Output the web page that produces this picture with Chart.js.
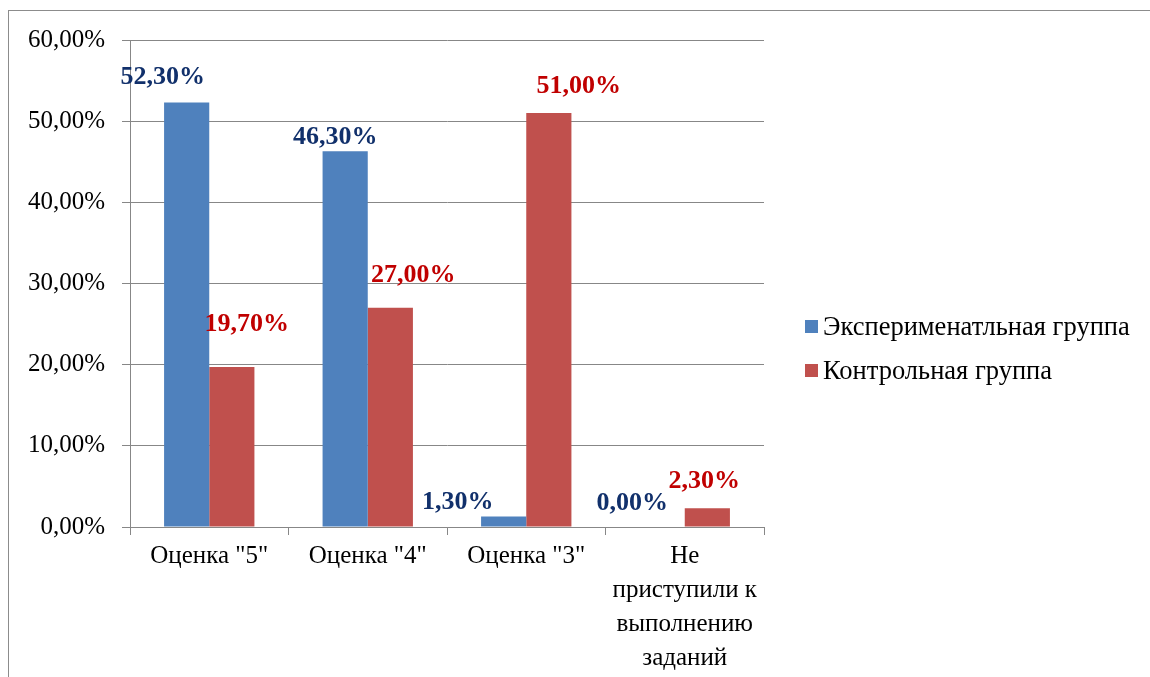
<!DOCTYPE html>
<html lang="ru">
<head>
<meta charset="utf-8">
<title>Результаты выполнения заданий</title>
<script src="https://cdn.jsdelivr.net/npm/chart.js@4.4.1/dist/chart.umd.min.js"></script>
<style>
  html, body { margin: 0; padding: 0; background: #ffffff; }
  #wrap { position: relative; width: 1150px; height: 677px; overflow: hidden; background: #ffffff; }
  #frame { position: absolute; left: 8px; top: 10px; width: 1200px; height: 700px;
           border-left: 1px solid #8c8c8c; border-top: 1px solid #8c8c8c; }
  #chart { position: absolute; left: 0; top: 0; }
  #legend { position: absolute; left: 805px; top: 304px; font-family: "Liberation Serif", "Times New Roman", serif;
            font-size: 26.5px; color: #000; }
  .item { display: flex; align-items: center; height: 44px; }
  .swatch { width: 13px; height: 13px; margin-right: 5px; }
</style>
</head>
<body>
<div id="wrap">
  <div id="frame"></div>
  <canvas id="chart" width="1150" height="677"></canvas>
  <div id="legend"></div>
</div>
<script>
// Категории и значения (в процентах)
const categories = ['Оценка "5"', 'Оценка "4"', 'Оценка "3"', ['Не', 'приступили к', 'выполнению', 'заданий']];
const seriesNames = ['Эксперименатльная группа', 'Контрольная группа'];
const experimentalGroup = [52.3, 46.3, 1.3, 0.0];
const controlGroup = [19.7, 27.0, 51.0, 2.3];
const yTickValues = [0, 10, 20, 30, 40, 50, 60];

const barColors = ['#4F81BD', '#C0504D'];
const labelColors = ['#11306B', '#C00000'];
const serif = '"Liberation Serif", "Times New Roman", serif';

function pct(v) {
  return v.toFixed(2).replace('.', ',') + '%';
}

// Подписи значений над столбцами со смещением относительно вершины столбца
const valueLabels = {
  id: 'valueLabels',
  afterDatasetsDraw(chart, args, opts) {
    const ctx = chart.ctx;
    ctx.save();
    ctx.font = 'bold 26px ' + serif;
    ctx.textAlign = 'center';
    ctx.textBaseline = 'middle';
    chart.data.datasets.forEach((ds, di) => {
      const meta = chart.getDatasetMeta(di);
      ctx.fillStyle = labelColors[di];
      meta.data.forEach((bar, i) => {
        const off = opts.offsets[di][i];
        ctx.fillText(pct(ds.data[i]), bar.x + off[0], bar.y + off[1]);
      });
    });
    ctx.restore();
  }
};

new Chart(document.getElementById('chart'), {
  type: 'bar',
  data: {
    labels: categories,
    datasets: [
      { label: seriesNames[0], data: experimentalGroup, backgroundColor: barColors[0] },
      { label: seriesNames[1], data: controlGroup, backgroundColor: barColors[1] }
    ]
  },
  options: {
    responsive: false,
    devicePixelRatio: 1,
    animation: false,
    categoryPercentage: 0.57,
    barPercentage: 1.0,
    layout: { padding: { top: 40, right: 386, bottom: 0, left: 0 } },
    plugins: {
      legend: { display: false },
      tooltip: { enabled: false },
      valueLabels: {
        offsets: [
          [[-24, -25], [-10, -14], [-46, -14], [-30, -24]],
          [[15, -43], [23, -33], [30, -27], [-3, -27]]
        ]
      }
    },
    scales: {
      x: {
        grid: { display: true, drawOnChartArea: false, drawTicks: true, tickLength: 8, color: '#878787', offset: true },
        border: { display: true, color: '#878787', width: 1 },
        ticks: {
          color: '#000',
          padding: 4,
          maxRotation: 0,
          autoSkip: false,
          font: { family: serif, size: 25, lineHeight: 1.36 }
        },
        afterFit(scale) { scale.height = 150; }
      },
      y: {
        min: 0,
        max: 60,
        afterBuildTicks(scale) { scale.ticks = yTickValues.map(v => ({ value: v })); },
        grid: { color: '#878787', lineWidth: 1, drawTicks: true, tickLength: 8 },
        border: { display: true, color: '#878787', width: 1 },
        ticks: {
          color: '#000',
          padding: 17,
          font: { family: serif, size: 25 },
          callback: v => pct(v)
        },
        afterFit(scale) { scale.width = 130; }
      }
    }
  },
  plugins: [valueLabels]
});

// Легенда
const legend = document.getElementById('legend');
seriesNames.forEach((name, i) => {
  const row = document.createElement('div');
  row.className = 'item';
  const sw = document.createElement('span');
  sw.className = 'swatch';
  sw.style.background = barColors[i];
  const tx = document.createElement('span');
  tx.textContent = name;
  row.appendChild(sw);
  row.appendChild(tx);
  legend.appendChild(row);
});
</script>
</body>
</html>
